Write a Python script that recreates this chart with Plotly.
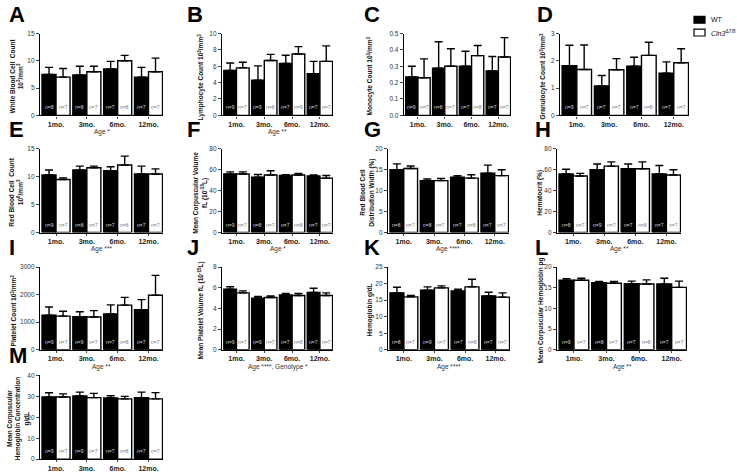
import plotly.graph_objects as go

# ---------------- data ----------------
months = ["1mo.", "3mo.", "6mo.", "12mo."]
genotypes = ["WT", "<i>Cln3</i><sup>Δ7/8</sup>"]

wbc_wt = [7.5, 7.4, 8.5, 7.0];       wbc_wt_err = [1.3, 1.6, 1.4, 1.8]
wbc_ko = [7.0, 8.0, 10.0, 8.0];      wbc_ko_err = [1.6, 1.0, 1.0, 2.5]

lym_wt = [5.5, 4.3, 6.35, 5.1];      lym_wt_err = [0.9, 1.75, 1.0, 1.5]
lym_ko = [5.8, 6.7, 7.5, 6.6];       lym_ko_err = [0.7, 0.75, 0.9, 1.9]

mono_wt = [0.235, 0.288, 0.30, 0.272]; mono_wt_err = [0.065, 0.162, 0.092, 0.088]
mono_ko = [0.23, 0.30, 0.365, 0.357];  mono_ko_err = [0.115, 0.107, 0.062, 0.118]

gran_wt = [1.82, 1.08, 1.80, 1.55];  gran_wt_err = [0.75, 0.38, 0.33, 0.41]
gran_ko = [1.68, 1.67, 2.20, 1.93];  gran_ko_err = [0.90, 0.41, 0.48, 0.51]

rbc_wt = [10.3, 11.2, 11.1, 10.5];   rbc_wt_err = [0.9, 0.7, 0.7, 1.4]
rbc_ko = [9.5, 11.6, 12.1, 10.5];    rbc_ko_err = [0.3, 0.3, 1.6, 0.9]

mcv_wt = [56.0, 53.0, 54.5, 54.0];   mcv_wt_err = [2.0, 2.5, 0.8, 1.0]
mcv_ko = [56.0, 55.0, 55.0, 52.0];   mcv_ko_err = [2.0, 4.0, 1.5, 2.5]

rdw_wt = [15.0, 12.4, 13.2, 14.2];   rdw_wt_err = [1.4, 0.4, 0.4, 1.9]
rdw_ko = [15.3, 12.4, 13.0, 13.6];   rdw_ko_err = [0.6, 0.5, 0.8, 1.4]

hct_wt = [56.0, 60.0, 61.0, 56.0];   hct_wt_err = [4.5, 5.5, 4.5, 8.0]
hct_ko = [54.0, 63.5, 61.0, 55.0];   hct_ko_err = [2.5, 4.0, 6.5, 5.0]

plt_wt = [1250, 1200, 1300, 1450];   plt_wt_err = [300, 180, 330, 370]
plt_ko = [1220, 1190, 1620, 1980];   plt_ko_err = [180, 230, 280, 720]

mpv_wt = [5.85, 5.0, 5.3, 5.55];     mpv_wt_err = [0.25, 0.15, 0.15, 0.4]
mpv_ko = [5.5, 5.05, 5.25, 5.25];    mpv_ko_err = [0.2, 0.15, 0.2, 0.25]

hgb_wt = [17.2, 18.0, 17.8, 16.3];   hgb_wt_err = [1.7, 1.0, 0.5, 1.1]
hgb_ko = [16.0, 18.7, 19.0, 15.9];   hgb_ko_err = [0.4, 0.6, 2.3, 1.3]

mch_wt = [16.8, 16.2, 16.0, 15.9];   mch_wt_err = [0.4, 0.3, 0.6, 1.4]
mch_ko = [16.8, 16.1, 15.9, 15.1];   mch_ko_err = [0.5, 0.4, 1.0, 1.5]

mchc_wt = [29.7, 30.2, 29.2, 29.4];  mchc_wt_err = [2.0, 1.8, 1.1, 2.6]
mchc_ko = [29.7, 29.4, 28.8, 28.8];  mchc_ko_err = [1.5, 2.0, 1.2, 3.0]

n_ko = [7, 7, 8, 7]
n_wt_A = [8, 8, 7, 7]
n_wt_B = [9, 9, 7, 7]
n_wt_C = [9, 8, 7, 7]
n_wt_D = [9, 7, 7, 7]
n_wt_H = [8, 9, 7, 7]
n_ko_B = [7, 8, 9, 7]

# ---------------- layout / styling ----------------
W, H = 737, 473
def px(x):
    return x / W
def py(y):
    return 1 - y / H

FONT = "Liberation Sans, Arial, sans-serif"

panels = [
    dict(L="A", wt=wbc_wt, we=wbc_wt_err, ko=wbc_ko, ke=wbc_ko_err, nw=n_wt_A, nk=n_ko, ymax=15, dt=5, fmt="",
         yt="White Blood Cell  Count<br>10<sup>3</sup>/mm<sup>3</sup>", x0=40, x1=163, row=0, tx=16, age="Age *", lx=7),
    dict(L="B", wt=lym_wt, we=lym_wt_err, ko=lym_ko, ke=lym_ko_err, nw=n_wt_B, nk=n_ko_B, ymax=10, dt=2, fmt="",
         yt="Lymphocyte Count 10<sup>3</sup>/mm<sup>3</sup>", x0=222, x1=333, row=0, tx=201, age="Age **", lx=185),
    dict(L="C", wt=mono_wt, we=mono_wt_err, ko=mono_ko, ke=mono_ko_err, nw=n_wt_C, nk=n_ko, ymax=0.5, dt=0.1, fmt=".1f",
         yt="Monocyte Count 10<sup>3</sup>/mm<sup>3</sup>", x0=404, x1=511, row=0, tx=370, age="", lx=362),
    dict(L="D", wt=gran_wt, we=gran_wt_err, ko=gran_ko, ke=gran_ko_err, nw=n_wt_D, nk=n_ko, ymax=3, dt=1, fmt="",
         yt="Granulocyte Count 10<sup>3</sup>/mm<sup>3</sup>", x0=560, x1=689, row=0, tx=543, age="", lx=535),
    dict(L="E", wt=rbc_wt, we=rbc_wt_err, ko=rbc_ko, ke=rbc_ko_err, nw=n_wt_C, nk=n_ko, ymax=15, dt=5, fmt="",
         yt="Red Blood Cell  Count<br>10<sup>6</sup>/mm<sup>3</sup>", x0=40, x1=163, row=1, tx=16, age="Age ***", lx=7),
    dict(L="F", wt=mcv_wt, we=mcv_wt_err, ko=mcv_ko, ke=mcv_ko_err, nw=n_wt_C, nk=n_ko, ymax=80, dt=20, fmt="",
         yt="Mean Corpuscular Volume<br>fL (10<sup>-15</sup>L)", x0=222, x1=333, row=1, tx=200, age="Age *", lx=185),
    dict(L="G", wt=rdw_wt, we=rdw_wt_err, ko=rdw_ko, ke=rdw_ko_err, nw=n_wt_A, nk=n_ko, ymax=20, dt=5, fmt="",
         yt="Red Blood Cell<br>Distribution Width (%)", x0=388, x1=509, row=1, tx=367, age="Age ****", lx=362),
    dict(L="H", wt=hct_wt, we=hct_wt_err, ko=hct_ko, ke=hct_ko_err, nw=n_wt_H, nk=n_ko, ymax=80, dt=20, fmt="",
         yt="Hematocrit (%)", x0=557, x1=681, row=1, tx=540, age="Age **", lx=533),
    dict(L="I", wt=plt_wt, we=plt_wt_err, ko=plt_ko, ke=plt_ko_err, nw=n_wt_B, nk=n_ko, ymax=3000, dt=1000, fmt="",
         yt="Platelet Count 10<sup>3</sup>/mm<sup>3</sup>", x0=40, x1=163, row=2, tx=14, age="Age **", lx=7),
    dict(L="J", wt=mpv_wt, we=mpv_wt_err, ko=mpv_ko, ke=mpv_ko_err, nw=n_wt_B, nk=n_ko, ymax=8, dt=2, fmt="",
         yt="Mean Platelet Volume fL (10<sup>-15</sup>L)", x0=222, x1=333, row=2, tx=201, age="Age ****, Genotype *", lx=185),
    dict(L="K", wt=hgb_wt, we=hgb_wt_err, ko=hgb_ko, ke=hgb_ko_err, nw=n_wt_H, nk=n_ko, ymax=25, dt=5, fmt="",
         yt="Hemoglobin g/dL", x0=388, x1=510, row=2, tx=370, age="Age ****", lx=362),
    dict(L="L", wt=mch_wt, we=mch_wt_err, ko=mch_ko, ke=mch_ko_err, nw=n_wt_C, nk=n_ko, ymax=20, dt=5, fmt="",
         yt="Mean Corpuscular Hemoglobin pg", x0=557, x1=687, row=2, tx=541, age="Age **", lx=533),
    dict(L="M", wt=mchc_wt, we=mchc_wt_err, ko=mchc_ko, ke=mchc_ko_err, nw=n_wt_B, nk=n_ko, ymax=40, dt=10, fmt="",
         yt="Mean Corpuscular<br>Hemoglobin Concentration<br>g/dL", x0=40, x1=163, row=3, tx=18, age="", lx=7),
]

rows = [(30, 113), (147, 232), (267, 351), (377, 462)]

fig = go.Figure()
annotations = []
shapes = []
xpos = [0, 1, 2, 3]
BW = 0.455
for i, p in enumerate(panels):
    k = "" if i == 0 else str(i + 1)
    xa, ya = "x" + k, "y" + k
    top, bot = rows[p["row"]]
    for j, (vals, errs, ns, fill, txtcol) in enumerate([
            (p["wt"], p["we"], p["nw"], "black", "#d8d8d8"),
            (p["ko"], p["ke"], p["nk"], "white", "#777777")]):
        fig.add_trace(go.Bar(
            x=[v + (j - 0.5) * BW for v in xpos], y=vals, width=BW,
            xaxis=xa, yaxis=ya, name=genotypes[j], showlegend=False,
            marker=dict(color=fill, line=dict(color="black", width=1.4)),
            error_y=dict(type="data", symmetric=False, array=errs, arrayminus=[0] * len(errs),
                         color="black", thickness=1.4, width=4),
        ))
        for g in range(4):
            annotations.append(dict(
                x=xpos[g] + (j - 0.5) * BW, y=0, xref=xa, yref=ya, text="n=%d" % ns[g],
                showarrow=False, yanchor="bottom", yshift=3,
                font=dict(size=5, color=txtcol, family=FONT)))
    fig.layout["xaxis" + k] = dict(
        domain=[px(p["x0"]), px(p["x1"])], anchor=ya, range=[-0.52, 3.47],
        tickvals=xpos, ticktext=months, ticks="outside", ticklen=2, tickwidth=1,
        showline=True, linecolor="black", linewidth=1.4, showgrid=False, zeroline=False,
        tickfont=dict(size=7, family=FONT, color="#222", weight="bold"), fixedrange=True)
    fig.layout["yaxis" + k] = dict(
        domain=[py(bot), py(top)], anchor=xa, range=[0, p["ymax"]], dtick=p["dt"],
        tickformat=p["fmt"], ticks="outside", ticklen=3, tickwidth=1,
        showline=True, linecolor="black", linewidth=1.4, showgrid=False, zeroline=False,
        tickfont=dict(size=6.5, family=FONT, color="#333"), fixedrange=True)
    annotations.append(dict(
        x=px(p["tx"]), y=py((top + bot) / 2 + 2), xref="paper", yref="paper", text=p["yt"],
        textangle=-90, showarrow=False, xanchor="center", yanchor="middle",
        font=dict(size=6.5, family=FONT, color="#111", weight="bold")))
    annotations.append(dict(
        x=px(p["lx"]), y=py(top - 5), xref="paper", yref="paper", text=p["L"],
        showarrow=False, xanchor="left", yanchor="bottom",
        font=dict(size=22, family=FONT, color="black", weight="bold")))
    if p["age"]:
        annotations.append(dict(
            x=px((p["x0"] + p["x1"]) / 2), y=py(bot + 17), xref="paper", yref="paper", text=p["age"],
            showarrow=False, xanchor="center", yanchor="middle",
            font=dict(size=6.5, family=FONT, color="#333")))

# legend (keys drawn as shapes, labels as text)
legend_rows = [(16, "black"), (29, "white")]
for (yc, fill), name in zip(legend_rows, genotypes):
    shapes.append(dict(type="rect", xref="paper", yref="paper",
                       x0=px(694), x1=px(705), y0=py(yc + 3.5), y1=py(yc - 3.5),
                       fillcolor=fill, line=dict(color="black", width=1.2)))
    annotations.append(dict(x=px(709), y=py(yc), xref="paper", yref="paper", text=name,
                            showarrow=False, xanchor="left", yanchor="middle",
                            font=dict(size=7, family=FONT, color="#111")))

fig.update_layout(
    width=W, height=H, margin=dict(l=0, r=0, t=0, b=0),
    plot_bgcolor="white", paper_bgcolor="white", showlegend=False,
    barmode="overlay", annotations=annotations, shapes=shapes,
)

fig.write_html("out.html", config={"displayModeBar": False},
               post_script="document.body.style.margin='0px';")
